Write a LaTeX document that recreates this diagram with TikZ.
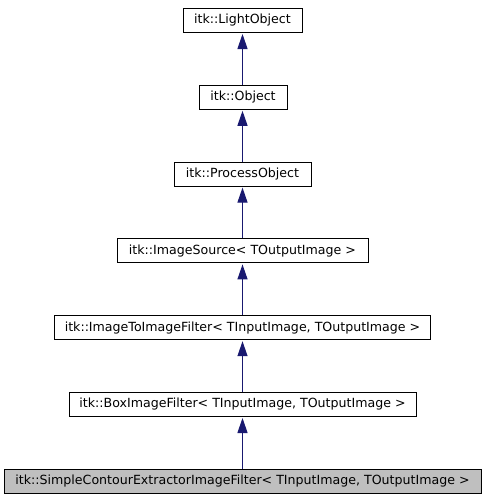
\documentclass[tikz,border=0pt]{standalone}
\usepackage{fontspec}
\setmainfont{DejaVu Sans}
\usetikzlibrary{arrows.meta}
\definecolor{edgeblue}{HTML}{191970}
\definecolor{fillgray}{HTML}{BFBFBF}
\begin{document}
\begin{tikzpicture}[x=1pt,y=-1pt,
  cls/.style={draw=black,line width=1pt,fill=white,inner sep=0pt,minimum height=24pt,font=\fontsize{12.6pt}{14pt}\selectfont,anchor=north},
  cur/.style={cls,fill=fillgray},
  inh/.style={draw=edgeblue,line width=1.2pt,shorten >=1pt,-{Triangle[length=15pt,width=10pt]}}]
\useasboundingbox (0,0) rectangle (485,504);
\node[cls,minimum width=119pt] (a) at (242.5,8) {itk::LightObject};
\node[cls,minimum width=88pt] (b) at (243,84.8) {itk::Object};
\node[cls,minimum width=137pt] (c) at (242.5,161.6) {itk::ProcessObject};
\node[cls,minimum width=251pt] (d) at (242.5,238.4) {itk::ImageSource< TOutputImage >};
\node[cls,minimum width=376pt] (e) at (242.5,315.2) {itk::ImageToImageFilter< TInputImage, TOutputImage >};
\node[cls,minimum width=347pt] (f) at (242.5,392) {itk::BoxImageFilter< TInputImage, TOutputImage >};
\node[cur,minimum width=477pt] (g) at (242.5,468.8) {itk::SimpleContourExtractorImageFilter< TInputImage, TOutputImage >};
\draw[inh] (b.north -| 242.5,0) -- (a.south -| 242.5,0);
\draw[inh] (c.north -| 242.5,0) -- (b.south -| 242.5,0);
\draw[inh] (d.north -| 242.5,0) -- (c.south -| 242.5,0);
\draw[inh] (e.north -| 242.5,0) -- (d.south -| 242.5,0);
\draw[inh] (f.north -| 242.5,0) -- (e.south -| 242.5,0);
\draw[inh] (g.north -| 242.5,0) -- (f.south -| 242.5,0);
\end{tikzpicture}
\end{document}
